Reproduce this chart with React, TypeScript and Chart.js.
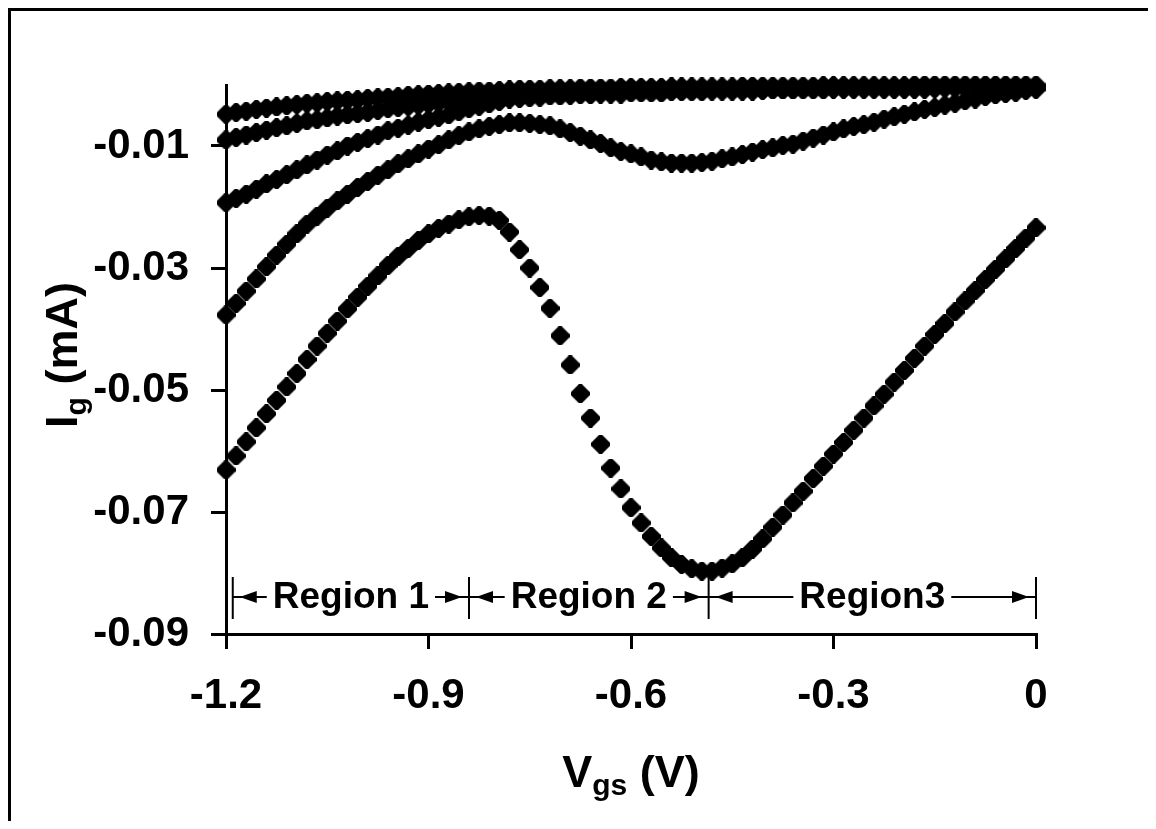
import { useEffect, useRef } from 'react';
import { Chart, registerables } from 'chart.js';

Chart.register(...registerables);

const FONT = '"Liberation Sans", Arial, Helvetica, sans-serif';

// Gate-source voltage sweep (V)
const vgs = [
  -1.2, -1.185, -1.17, -1.155, -1.14, -1.125, -1.11, -1.095, -1.08, -1.065,
  -1.05, -1.035, -1.02, -1.005, -0.99, -0.975, -0.96, -0.945, -0.93, -0.915,
  -0.9, -0.885, -0.87, -0.855, -0.84, -0.825, -0.81, -0.795, -0.78, -0.765,
  -0.75, -0.735, -0.72, -0.705, -0.69, -0.675, -0.66, -0.645, -0.63, -0.615,
  -0.6, -0.585, -0.57, -0.555, -0.54, -0.525, -0.51, -0.495, -0.48, -0.465,
  -0.45, -0.435, -0.42, -0.405, -0.39, -0.375, -0.36, -0.345, -0.33, -0.315,
  -0.3, -0.285, -0.27, -0.255, -0.24, -0.225, -0.21, -0.195, -0.18, -0.165,
  -0.15, -0.135, -0.12, -0.105, -0.09, -0.075, -0.06, -0.045, -0.03, -0.015,
  0,
];

// Gate current curves (mA)
const ig1 = [
  -0.0048, -0.0045, -0.0043, -0.004, -0.0038, -0.0036, -0.0034, -0.0032, -0.003, -0.0029,
  -0.0027, -0.0026, -0.0025, -0.0024, -0.0022, -0.0021, -0.002, -0.0019, -0.0017, -0.0016,
  -0.0015, -0.0014, -0.0013, -0.0012, -0.0011, -0.001, -0.001, -0.0009, -0.0008, -0.0007,
  -0.0007, -0.0007, -0.0006, -0.0006, -0.0006, -0.0005, -0.0005, -0.0005, -0.0005, -0.0004,
  -0.0004, -0.0004, -0.0004, -0.0004, -0.0003, -0.0003, -0.0003, -0.0003, -0.0003, -0.0003,
  -0.0003, -0.0002, -0.0002, -0.0002, -0.0002, -0.0002, -0.0002, -0.0002, -0.0002, -0.0001,
  -0.0001, -0.0001, -0.0001, -0.0001, -0.0001, -0.0001, -0.0001, -0.0001, 0, 0,
  0, 0, 0, 0, 0, 0, 0, 0, 0, 0,
  0,
];
const ig2 = [
  -0.009, -0.0086, -0.0082, -0.0078, -0.0074, -0.007, -0.0067, -0.0063, -0.0059, -0.0057,
  -0.0054, -0.0051, -0.0049, -0.0047, -0.0045, -0.0042, -0.0039, -0.0037, -0.0035, -0.0033,
  -0.0031, -0.0029, -0.0027, -0.0025, -0.0023, -0.0021, -0.0019, -0.0018, -0.0016, -0.0015,
  -0.0015, -0.0015, -0.0013, -0.0013, -0.0012, -0.0011, -0.0011, -0.0011, -0.0011, -0.001,
  -0.001, -0.001, -0.0009, -0.0008, -0.0008, -0.0008, -0.0008, -0.0008, -0.0007, -0.0007,
  -0.0007, -0.0007, -0.0007, -0.0007, -0.0007, -0.0007, -0.0007, -0.0006, -0.0005, -0.0005,
  -0.0005, -0.0005, -0.0005, -0.0005, -0.0005, -0.0005, -0.0005, -0.0005, -0.0003, -0.0003,
  -0.0003, -0.0003, -0.0003, -0.0003, -0.0003, -0.0003, -0.0003, -0.0003, -0.0003, -0.0003,
  -0.0003,
];
const ig3 = [
  -0.0193, -0.0186, -0.0179, -0.0171, -0.0162, -0.0155, -0.0147, -0.0139, -0.0131, -0.0123,
  -0.0115, -0.0108, -0.01, -0.0094, -0.0088, -0.0082, -0.0075, -0.0071, -0.0066, -0.0061,
  -0.0057, -0.0053, -0.0049, -0.0044, -0.0039, -0.0035, -0.0031, -0.0027, -0.0023, -0.0022,
  -0.0021, -0.002, -0.0018, -0.0018, -0.0017, -0.0016, -0.0016, -0.0015, -0.0015, -0.0015,
  -0.0013, -0.0013, -0.0013, -0.0013, -0.0011, -0.0011, -0.0011, -0.0011, -0.001, -0.001,
  -0.001, -0.001, -0.001, -0.0009, -0.0008, -0.0008, -0.0008, -0.0008, -0.0008, -0.0008,
  -0.0007, -0.0007, -0.0007, -0.0007, -0.0007, -0.0007, -0.0007, -0.0007, -0.0007, -0.0007,
  -0.0006, -0.0005, -0.0005, -0.0005, -0.0005, -0.0005, -0.0005, -0.0005, -0.0005, -0.0005,
  -0.0005,
];
const ig4 = [
  -0.0377, -0.0358, -0.0338, -0.0318, -0.0298, -0.0279, -0.0261, -0.0244, -0.0228, -0.0215,
  -0.0202, -0.019, -0.0179, -0.0168, -0.0158, -0.0148, -0.0139, -0.0129, -0.0121, -0.0113,
  -0.0105, -0.0098, -0.009, -0.0083, -0.0077, -0.0072, -0.0068, -0.0065, -0.0062, -0.0062,
  -0.0063, -0.0065, -0.0067, -0.0072, -0.0078, -0.0084, -0.009, -0.0096, -0.0103, -0.0109,
  -0.0113, -0.0118, -0.0123, -0.0126, -0.0128, -0.0128, -0.0128, -0.0127, -0.0125, -0.0121,
  -0.0118, -0.0114, -0.011, -0.0106, -0.0103, -0.0099, -0.0097, -0.0092, -0.0087, -0.0082,
  -0.0077, -0.0072, -0.0068, -0.0065, -0.0061, -0.0056, -0.0052, -0.0048, -0.0044, -0.004,
  -0.0037, -0.0033, -0.003, -0.0026, -0.0023, -0.0019, -0.0016, -0.0014, -0.0012, -0.0009,
  -0.0007,
];
const ig5 = [
  -0.0631, -0.0608, -0.0585, -0.0562, -0.0539, -0.0517, -0.0495, -0.0473, -0.045, -0.0428,
  -0.0407, -0.0387, -0.0367, -0.0348, -0.033, -0.0313, -0.0296, -0.0281, -0.0268, -0.0255,
  -0.0244, -0.0235, -0.0228, -0.0221, -0.0216, -0.0214, -0.0215, -0.0222, -0.0241, -0.027,
  -0.03, -0.0332, -0.0366, -0.0411, -0.0459, -0.0506, -0.0546, -0.0589, -0.0628, -0.0662,
  -0.0693, -0.0718, -0.074, -0.0759, -0.0775, -0.0786, -0.0793, -0.0797, -0.0797, -0.0792,
  -0.0785, -0.0775, -0.0761, -0.0744, -0.0725, -0.0705, -0.0685, -0.0666, -0.0645, -0.0625,
  -0.0605, -0.0586, -0.0566, -0.0546, -0.0526, -0.0507, -0.0487, -0.0468, -0.0448, -0.0428,
  -0.0409, -0.0391, -0.0372, -0.0354, -0.0337, -0.0319, -0.0302, -0.0285, -0.0268, -0.0251,
  -0.0234,
];

const xTicks = [-1.2, -0.9, -0.6, -0.3, 0];
const yTicks = [-0.09, -0.07, -0.05, -0.03, -0.01];

// Operating regions along the sweep
const regionBounds = [-1.19, -0.84, -0.485, 0];
const regionNames = ['Region 1', 'Region 2', 'Region3'];

const series = [ig1, ig2, ig3, ig4, ig5];

type Part = { text: string; font: string; dy?: number };

function drawRich(ctx: CanvasRenderingContext2D, parts: Part[], cx: number, baseY: number) {
  let total = 0;
  const widths = parts.map((p) => {
    ctx.font = p.font;
    const w = ctx.measureText(p.text).width;
    total += w;
    return w;
  });
  let x = cx - total / 2;
  ctx.textAlign = 'left';
  ctx.textBaseline = 'alphabetic';
  parts.forEach((p, i) => {
    ctx.font = p.font;
    ctx.fillText(p.text, x, baseY + (p.dy || 0));
    x += widths[i];
  });
}

// Diamond with blunted tips used as the data marker
function makeMarker(): HTMLCanvasElement {
  const c = document.createElement('canvas');
  const s = 19;
  const k = 8;
  c.width = s;
  c.height = s;
  const g = c.getContext('2d')!;
  g.fillStyle = '#000';
  g.beginPath();
  g.moveTo(k, 0);
  g.lineTo(s - k, 0);
  g.lineTo(s, k);
  g.lineTo(s, s - k);
  g.lineTo(s - k, s);
  g.lineTo(k, s);
  g.lineTo(0, s - k);
  g.lineTo(0, k);
  g.closePath();
  g.fill();
  return c;
}

const framePlugin = {
  id: 'frame',
  beforeDraw(chart: any) {
    const ctx = chart.ctx as CanvasRenderingContext2D;
    ctx.save();
    ctx.fillStyle = '#000';
    ctx.fillRect(0, 0, 3, chart.height);
    ctx.fillRect(0, 0, chart.width, 3);
    ctx.restore();
  },
};

const annotationPlugin = {
  id: 'annotations',
  afterDraw(chart: any) {
    const ctx = chart.ctx as CanvasRenderingContext2D;
    const xs = chart.scales.x;
    const area = chart.chartArea;
    ctx.save();
    ctx.fillStyle = '#000';
    ctx.strokeStyle = '#000';

    // axis titles
    const main = `bold 45px ${FONT}`;
    const sub = `bold 30px ${FONT}`;
    drawRich(
      ctx,
      [
        { text: 'V', font: main },
        { text: 'gs', font: sub, dy: 8 },
        { text: ' (V)', font: main },
      ],
      623,
      779
    );
    ctx.save();
    ctx.translate(69, 347);
    ctx.rotate(-Math.PI / 2);
    drawRich(
      ctx,
      [
        { text: 'I', font: main },
        { text: 'g', font: sub, dy: 9 },
        { text: ' (mA)', font: main },
      ],
      0,
      0
    );
    ctx.restore();

    // region markers
    const y = area.bottom - 37;
    const bars = regionBounds.map((v) => xs.getPixelForValue(v));
    ctx.lineWidth = 2;
    bars.forEach((bx) => {
      ctx.beginPath();
      ctx.moveTo(bx, y - 20);
      ctx.lineTo(bx, y + 22);
      ctx.stroke();
    });
    ctx.font = `bold 37px ${FONT}`;
    regionNames.forEach((name, k) => {
      const a = bars[k];
      const b = bars[k + 1];
      const mid = (a + b) / 2;
      const w = ctx.measureText(name).width;
      const tl = mid - w / 2 - 6;
      const tr = mid + w / 2 + 6;
      ctx.beginPath();
      ctx.moveTo(a, y);
      ctx.lineTo(tl, y);
      ctx.moveTo(tr, y);
      ctx.lineTo(b, y);
      ctx.stroke();
      // arrowheads pointing at the bars
      ctx.beginPath();
      ctx.moveTo(a + 7, y);
      ctx.lineTo(a + 24, y - 6);
      ctx.lineTo(a + 24, y + 6);
      ctx.closePath();
      ctx.fill();
      ctx.beginPath();
      ctx.moveTo(b - 7, y);
      ctx.lineTo(b - 24, y - 6);
      ctx.lineTo(b - 24, y + 6);
      ctx.closePath();
      ctx.fill();
      ctx.textAlign = 'center';
      ctx.textBaseline = 'alphabetic';
      ctx.fillText(name, mid, y + 11);
    });
    ctx.restore();
  },
};

export default function App() {
  const ref = useRef<HTMLCanvasElement>(null);

  useEffect(() => {
    const canvas = ref.current;
    if (!canvas) return;
    const marker = makeMarker();
    const tickFont = { family: FONT, size: 42, weight: 'bold' as const };
    const chart = new Chart(canvas, {
      type: 'scatter',
      data: {
        datasets: series.map((s, k) => ({
          label: `Ig${k + 1}`,
          data: vgs.map((x, i) => ({ x, y: s[i] })),
          pointStyle: marker as any,
          pointRadius: 9.5,
          pointBorderWidth: 0,
          pointBackgroundColor: '#000',
          borderColor: '#000',
          showLine: false,
          clip: false as any,
        })),
      },
      options: {
        responsive: false,
        devicePixelRatio: 1,
        animation: false,
        layout: { padding: { left: 0, right: 112, top: 77, bottom: 87 } },
        plugins: { legend: { display: false }, tooltip: { enabled: false } },
        scales: {
          x: {
            type: 'linear',
            min: -1.2,
            max: 0,
            afterBuildTicks: (s: any) => {
              s.ticks = xTicks.map((value) => ({ value }));
            },
            afterFit: (s: any) => {
              s.height = 100;
            },
            ticks: {
              autoSkip: false,
              maxRotation: 0,
              padding: 22,
              color: '#000',
              font: tickFont,
              callback: (v: any) => (Number(v) === 0 ? '0' : Number(v).toFixed(1)),
            },
            grid: {
              drawOnChartArea: false,
              drawTicks: true,
              tickLength: 15,
              lineWidth: 3,
              color: '#000',
            },
            border: { display: true, color: '#000', width: 3 },
          },
          y: {
            type: 'linear',
            min: -0.09,
            max: 0,
            afterBuildTicks: (s: any) => {
              s.ticks = yTicks.map((value) => ({ value }));
            },
            afterFit: (s: any) => {
              s.width = 218;
            },
            ticks: {
              autoSkip: false,
              padding: 22,
              color: '#000',
              font: tickFont,
              callback: (v: any) => Number(v).toFixed(2),
            },
            grid: {
              drawOnChartArea: false,
              drawTicks: true,
              tickLength: 15,
              lineWidth: 3,
              color: '#000',
            },
            border: { display: true, color: '#000', width: 3 },
          },
        },
      },
      plugins: [framePlugin, annotationPlugin],
    });
    return () => chart.destroy();
  }, []);

  return (
    <div style={{ position: 'relative', width: 1140, height: 813, background: '#fff' }}>
      <canvas ref={ref} width={1140} height={813} style={{ display: 'block' }} />
    </div>
  );
}
